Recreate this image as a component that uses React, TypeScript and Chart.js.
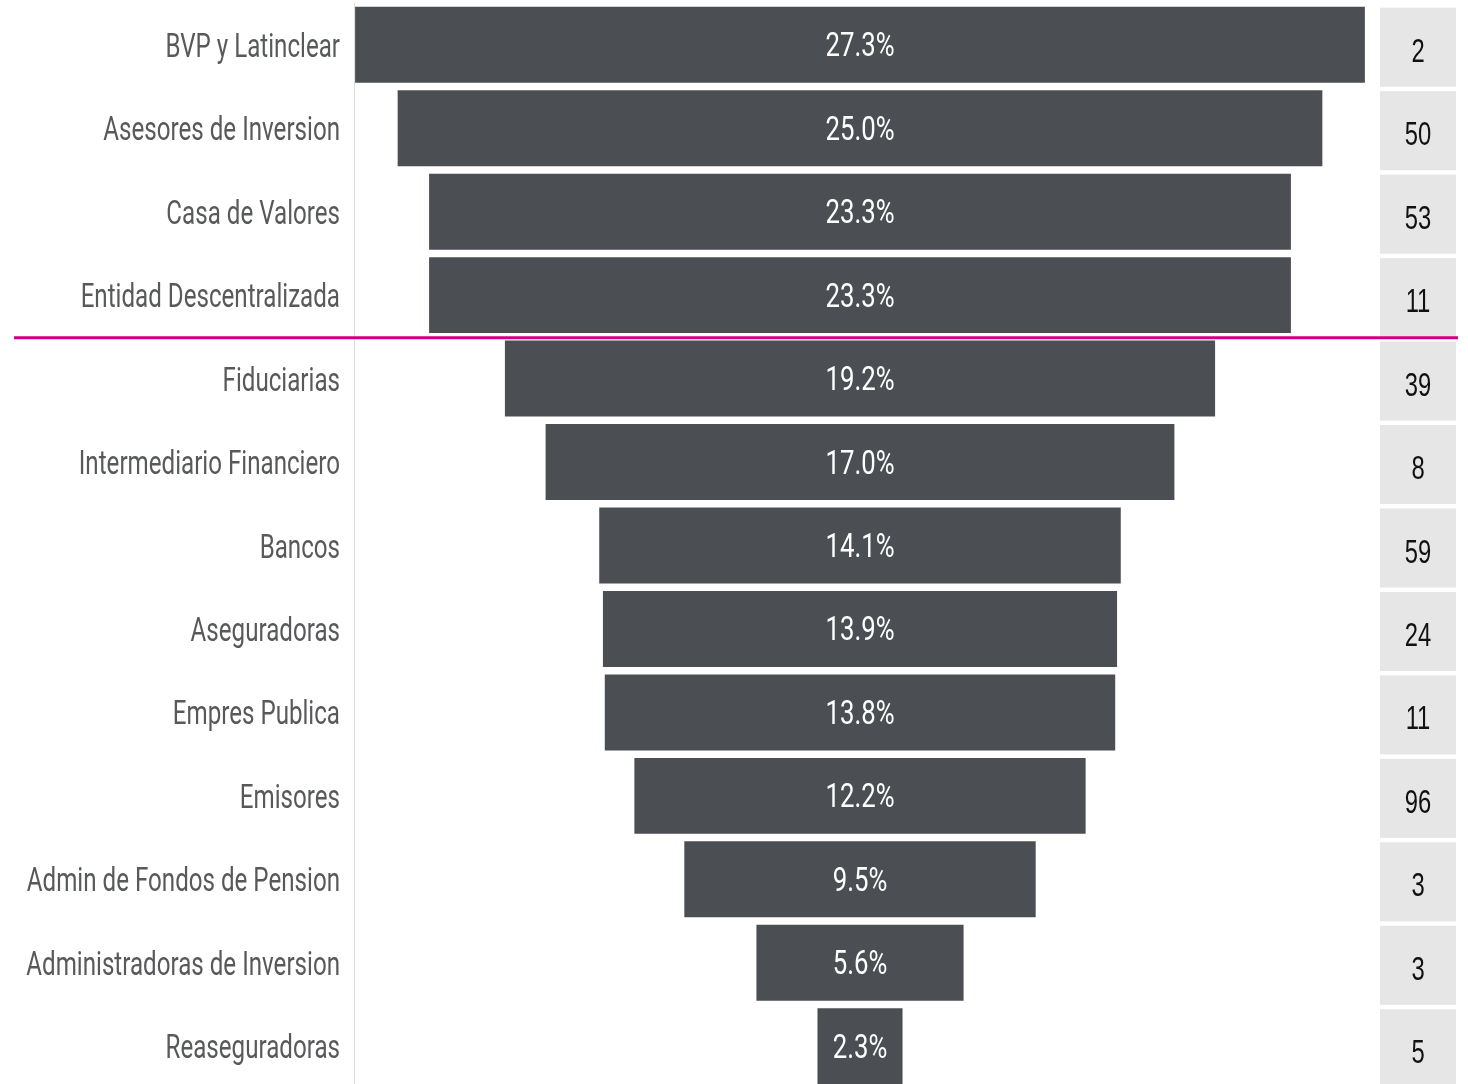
import React, { useEffect, useRef } from "react";
import { Chart, registerables } from "chart.js";

Chart.register(...registerables);

const categories = [
  "BVP y Latinclear",
  "Asesores de Inversion",
  "Casa de Valores",
  "Entidad Descentralizada",
  "Fiduciarias",
  "Intermediario Financiero",
  "Bancos",
  "Aseguradoras",
  "Empres Publica",
  "Emisores",
  "Admin de Fondos de Pension",
  "Administradoras de Inversion",
  "Reaseguradoras",
];
const percentValues = [27.3, 25.0, 23.3, 23.3, 19.2, 17.0, 14.1, 13.9, 13.8, 12.2, 9.5, 5.6, 2.3];
const counts = [2, 50, 53, 11, 39, 8, 59, 24, 11, 96, 3, 3, 5];
const dividerAfterIndex = 3;

const LABEL_FONT = "34px Roboto, 'DejaVu Sans', sans-serif";
const VALUE_FONT = "33px Roboto, 'DejaVu Sans', sans-serif";
const COUNT_FONT = "34px 'Liberation Sans', Arial, sans-serif";

export default function App() {
  const ref = useRef<HTMLCanvasElement | null>(null);

  useEffect(() => {
    if (!ref.current) return;
    const overlay = {
      id: "overlay",
      afterDatasetsDraw(chart: any) {
        const ctx = chart.ctx;
        const y = chart.scales.y;
        const meta = chart.getDatasetMeta(0);
        ctx.save();
        // category labels (condensed look)
        ctx.fillStyle = "#58595b";
        ctx.font = LABEL_FONT;
        ctx.textAlign = "right";
        ctx.textBaseline = "alphabetic";
        categories.forEach((c, i) => {
          const cy = y.getPixelForValue(i);
          ctx.save();
          ctx.translate(340, cy + 12);
          ctx.scale(0.71, 1);
          ctx.fillText(c, 0, 0);
          ctx.restore();
        });
        // bar value labels
        ctx.fillStyle = "#ffffff";
        ctx.font = VALUE_FONT;
        ctx.textAlign = "center";
        meta.data.forEach((bar: any, i: number) => {
          const cx = (bar.x + bar.base) / 2;
          ctx.save();
          ctx.translate(cx, bar.y + 11.5);
          ctx.scale(0.78, 1);
          ctx.fillText(percentValues[i].toFixed(1) + "%", 0, 0);
          ctx.restore();
        });
        // right count boxes
        counts.forEach((c, i) => {
          const cy = y.getPixelForValue(i);
          ctx.fillStyle = "#e6e6e6";
          ctx.fillRect(1380, cy - 37, 76, 79);
          ctx.fillStyle = "#111111";
          ctx.font = COUNT_FONT;
          ctx.textAlign = "center";
          ctx.save();
          ctx.translate(1418, cy + 17);
          ctx.scale(0.7, 1);
          ctx.fillText(String(c), 0, 0);
          ctx.restore();
        });
        // divider line
        const ly =
          (y.getPixelForValue(dividerAfterIndex) + y.getPixelForValue(dividerAfterIndex + 1)) / 2 + 1;
        ctx.strokeStyle = "#cc0088";
        ctx.lineWidth = 3;
        ctx.beginPath();
        ctx.moveTo(14, ly);
        ctx.lineTo(1458, ly);
        ctx.stroke();
        ctx.restore();
      },
    };

    const chart = new Chart(ref.current, {
      type: "bar",
      data: {
        labels: categories,
        datasets: [
          {
            data: percentValues.map((v) => [-v / 2, v / 2]) as any,
            backgroundColor: "#4b4e53",
            borderWidth: 0,
            barPercentage: 0.91,
            categoryPercentage: 1,
          },
        ],
      },
      options: {
        indexAxis: "y",
        responsive: false,
        animation: false,
        layout: { padding: { top: 3, right: 102, left: 0, bottom: 0 } },
        plugins: { legend: { display: false }, tooltip: { enabled: false } },
        scales: {
          x: { display: false, min: -13.68, max: 13.68 },
          y: {
            grid: { display: false, drawTicks: false },
            border: { display: true, color: "#dcdcdc", width: 1 },
            ticks: { display: false },
            afterFit: (s: any) => {
              s.width = 354;
              s.paddingTop = 0;
              s.paddingBottom = 0;
            },
          },
        },
      },
      plugins: [overlay],
    });
    return () => chart.destroy();
  }, []);

  return (
    <div
      style={{
        position: "fixed",
        left: 0,
        top: 0,
        width: 1468,
        height: 1084,
        overflow: "hidden",
        background: "#ffffff",
      }}
    >
      <canvas ref={ref} width={1468} height={1088} style={{ display: "block" }} />
    </div>
  );
}
